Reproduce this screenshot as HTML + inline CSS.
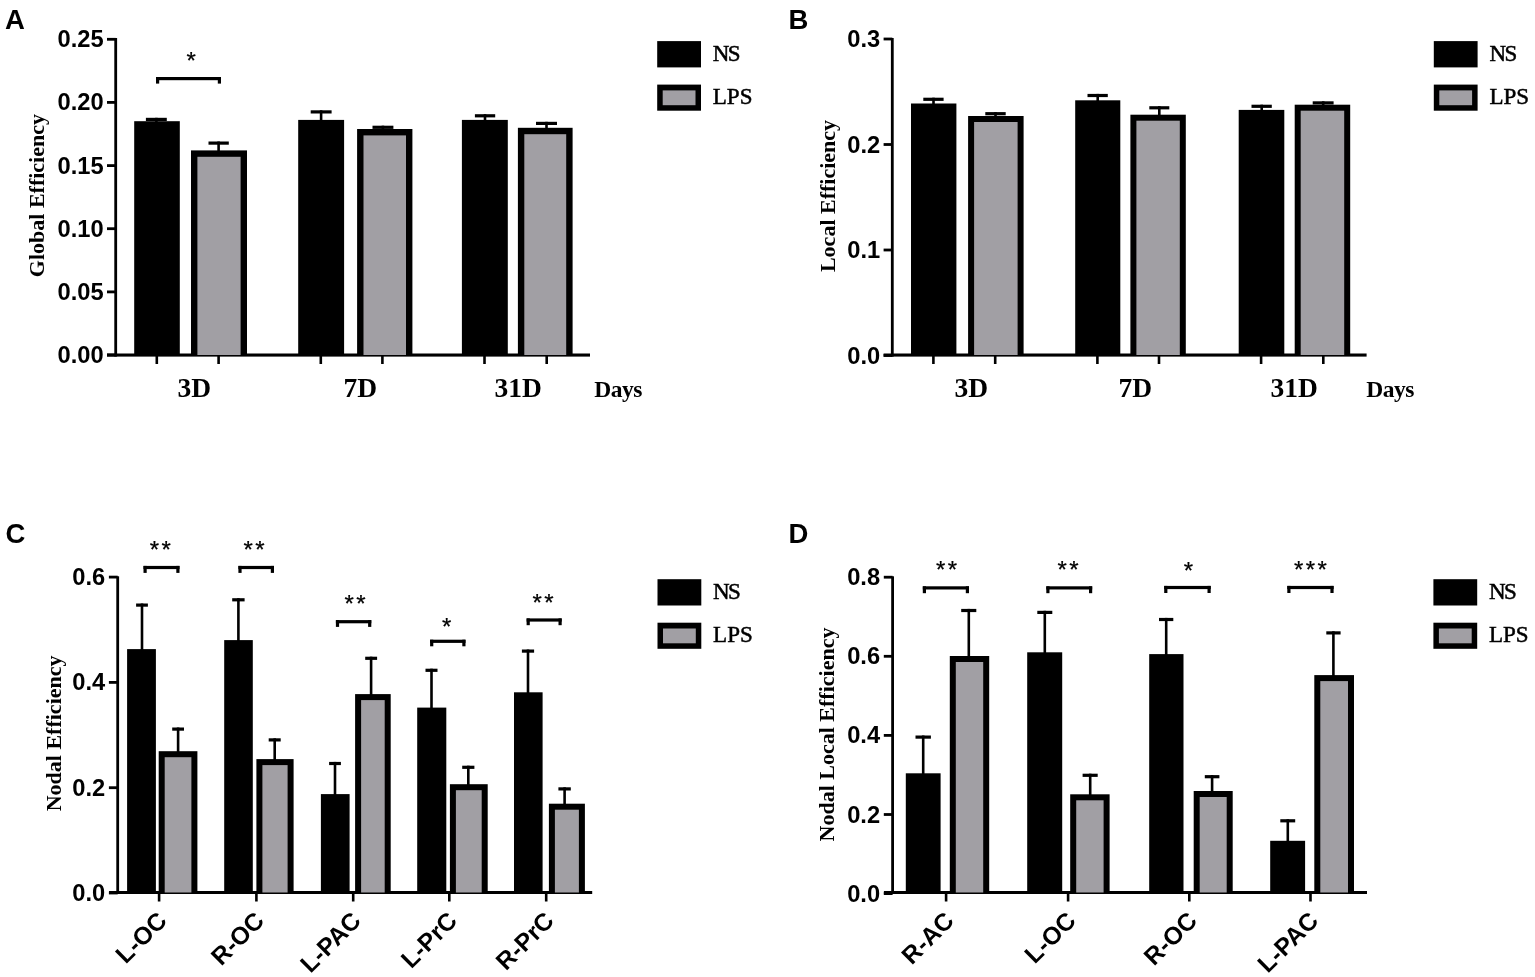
<!DOCTYPE html>
<html><head><meta charset="utf-8"><title>Figure</title>
<style>html,body{margin:0;padding:0;background:#fff;}svg{display:block;}</style></head>
<body><svg width="1535" height="977" viewBox="0 0 1535 977">
<rect width="1535" height="977" fill="#fff"/>
<text x="5.1" y="28.8" font-family="Liberation Sans, Arial, sans-serif" font-weight="bold" font-size="27.5" text-anchor="start" >A</text>
<rect x="114.3" y="38.0" width="2.8" height="318.6" fill="#000"/>
<rect x="107.0" y="353.6" width="8.7" height="2.8" fill="#000"/>
<text x="103.6" y="363.0" font-family="Liberation Sans, Arial, sans-serif" font-weight="bold" font-size="23.7" text-anchor="end" >0.00</text>
<rect x="107.0" y="290.5" width="8.7" height="2.8" fill="#000"/>
<text x="103.6" y="299.9" font-family="Liberation Sans, Arial, sans-serif" font-weight="bold" font-size="23.7" text-anchor="end" >0.05</text>
<rect x="107.0" y="227.3" width="8.7" height="2.8" fill="#000"/>
<text x="103.6" y="236.7" font-family="Liberation Sans, Arial, sans-serif" font-weight="bold" font-size="23.7" text-anchor="end" >0.10</text>
<rect x="107.0" y="164.2" width="8.7" height="2.8" fill="#000"/>
<text x="103.6" y="173.6" font-family="Liberation Sans, Arial, sans-serif" font-weight="bold" font-size="23.7" text-anchor="end" >0.15</text>
<rect x="107.0" y="101.0" width="8.7" height="2.8" fill="#000"/>
<text x="103.6" y="110.4" font-family="Liberation Sans, Arial, sans-serif" font-weight="bold" font-size="23.7" text-anchor="end" >0.20</text>
<rect x="107.0" y="37.9" width="8.7" height="2.8" fill="#000"/>
<text x="103.6" y="47.3" font-family="Liberation Sans, Arial, sans-serif" font-weight="bold" font-size="23.7" text-anchor="end" >0.25</text>
<rect x="107.0" y="353.5" width="483.0" height="3.1" fill="#000"/>
<rect x="134.2" y="121.2" width="45.6" height="233.8" fill="#000"/>
<rect x="155.1" y="117.8" width="2.6" height="4.4" fill="#000"/>
<rect x="145.9" y="117.8" width="20.9" height="3.2" fill="#000"/>
<rect x="191.0" y="150.4" width="56.0" height="204.6" fill="#000"/>
<rect x="197.4" y="156.8" width="43.2" height="198.2" fill="#a19fa4"/>
<rect x="217.3" y="141.5" width="2.6" height="9.9" fill="#000"/>
<rect x="208.5" y="141.5" width="20.3" height="3.2" fill="#000"/>
<rect x="298.2" y="119.9" width="45.9" height="235.1" fill="#000"/>
<rect x="319.8" y="110.3" width="2.6" height="10.6" fill="#000"/>
<rect x="310.7" y="110.3" width="20.9" height="3.2" fill="#000"/>
<rect x="357.1" y="129.0" width="55.3" height="226.0" fill="#000"/>
<rect x="363.5" y="135.4" width="42.5" height="219.6" fill="#a19fa4"/>
<rect x="381.6" y="125.7" width="2.6" height="4.3" fill="#000"/>
<rect x="372.5" y="125.7" width="20.9" height="3.2" fill="#000"/>
<rect x="461.9" y="119.9" width="45.9" height="235.1" fill="#000"/>
<rect x="483.7" y="114.2" width="2.6" height="6.7" fill="#000"/>
<rect x="474.9" y="114.2" width="20.3" height="3.2" fill="#000"/>
<rect x="517.9" y="127.8" width="54.7" height="227.2" fill="#000"/>
<rect x="524.3" y="134.2" width="41.9" height="220.8" fill="#a19fa4"/>
<rect x="545.2" y="121.8" width="2.6" height="7.0" fill="#000"/>
<rect x="536.0" y="121.8" width="21.0" height="3.2" fill="#000"/>
<rect x="155.5" y="355.0" width="2.6" height="9.0" fill="#000"/>
<rect x="217.3" y="355.0" width="2.6" height="9.0" fill="#000"/>
<rect x="319.5" y="355.0" width="2.6" height="9.0" fill="#000"/>
<rect x="381.1" y="355.0" width="2.6" height="9.0" fill="#000"/>
<rect x="483.2" y="355.0" width="2.6" height="9.0" fill="#000"/>
<rect x="545.4" y="355.0" width="2.6" height="9.0" fill="#000"/>
<text x="194.4" y="397.3" font-family="Liberation Serif, Times New Roman, serif" font-weight="bold" font-size="27.5" text-anchor="middle" >3D</text>
<text x="360.3" y="397.3" font-family="Liberation Serif, Times New Roman, serif" font-weight="bold" font-size="27.5" text-anchor="middle" >7D</text>
<text x="518.2" y="397.3" font-family="Liberation Serif, Times New Roman, serif" font-weight="bold" font-size="27.5" text-anchor="middle" >31D</text>
<text x="594.3" y="397.4" font-family="Liberation Serif, Times New Roman, serif" font-weight="bold" font-size="23.5" text-anchor="start" letter-spacing="-0.5">Days</text>
<rect x="657.2" y="41.1" width="43.8" height="26.3" fill="#000"/>
<rect x="657.2" y="84.6" width="43.8" height="26.1" fill="#000"/>
<rect x="662.7" y="90.4" width="32.8" height="14.8" fill="#a19fa4"/>
<text x="712.8" y="61.3" font-family="Liberation Serif, Times New Roman, serif" font-size="23" text-anchor="start" letter-spacing="-1.6" stroke="#000" stroke-width="0.5">NS</text>
<text x="712.8" y="103.9" font-family="Liberation Serif, Times New Roman, serif" font-size="23" text-anchor="start" stroke="#000" stroke-width="0.5">LPS</text>
<text transform="translate(44.2,195.6) rotate(-90)" font-family="Liberation Serif, Times New Roman, serif" font-weight="bold" font-size="22" text-anchor="middle">Global Efficiency</text>
<rect x="156.0" y="77.0" width="65.0" height="3.2" fill="#000"/>
<rect x="156.0" y="77.0" width="3.2" height="6.6" fill="#000"/>
<rect x="217.8" y="77.0" width="3.2" height="6.6" fill="#000"/>
<text x="186.4" y="69.4" font-family="Liberation Sans, Arial, sans-serif" font-size="24" text-anchor="start" letter-spacing="2.4" stroke="#000" stroke-width="0.25" stroke-linejoin="round">*</text>
<text x="788.5" y="28.8" font-family="Liberation Sans, Arial, sans-serif" font-weight="bold" font-size="27.5" text-anchor="start" >B</text>
<rect x="890.9" y="38.0" width="2.8" height="318.6" fill="#000"/>
<rect x="883.6" y="354.1" width="8.7" height="2.8" fill="#000"/>
<text x="880.2" y="363.5" font-family="Liberation Sans, Arial, sans-serif" font-weight="bold" font-size="23.7" text-anchor="end" >0.0</text>
<rect x="883.6" y="248.6" width="8.7" height="2.8" fill="#000"/>
<text x="880.2" y="258.0" font-family="Liberation Sans, Arial, sans-serif" font-weight="bold" font-size="23.7" text-anchor="end" >0.1</text>
<rect x="883.6" y="143.1" width="8.7" height="2.8" fill="#000"/>
<text x="880.2" y="152.5" font-family="Liberation Sans, Arial, sans-serif" font-weight="bold" font-size="23.7" text-anchor="end" >0.2</text>
<rect x="883.6" y="37.6" width="8.7" height="2.8" fill="#000"/>
<text x="880.2" y="47.0" font-family="Liberation Sans, Arial, sans-serif" font-weight="bold" font-size="23.7" text-anchor="end" >0.3</text>
<rect x="883.6" y="353.5" width="483.0" height="3.1" fill="#000"/>
<rect x="911.0" y="103.5" width="45.4" height="251.5" fill="#000"/>
<rect x="932.2" y="97.7" width="2.6" height="6.8" fill="#000"/>
<rect x="923.3" y="97.7" width="20.3" height="3.2" fill="#000"/>
<rect x="968.1" y="116.0" width="55.5" height="239.0" fill="#000"/>
<rect x="974.1" y="122.0" width="43.5" height="233.0" fill="#a19fa4"/>
<rect x="994.2" y="112.1" width="2.6" height="4.9" fill="#000"/>
<rect x="985.3" y="112.1" width="20.4" height="3.2" fill="#000"/>
<rect x="1075.2" y="100.3" width="45.1" height="254.7" fill="#000"/>
<rect x="1096.4" y="93.9" width="2.6" height="7.4" fill="#000"/>
<rect x="1087.5" y="93.9" width="20.3" height="3.2" fill="#000"/>
<rect x="1130.4" y="114.7" width="55.4" height="240.3" fill="#000"/>
<rect x="1136.4" y="120.7" width="43.4" height="234.3" fill="#a19fa4"/>
<rect x="1158.0" y="106.2" width="2.6" height="9.5" fill="#000"/>
<rect x="1149.3" y="106.2" width="20.0" height="3.2" fill="#000"/>
<rect x="1238.7" y="109.9" width="45.6" height="245.1" fill="#000"/>
<rect x="1260.4" y="104.7" width="2.6" height="6.2" fill="#000"/>
<rect x="1251.5" y="104.7" width="20.3" height="3.2" fill="#000"/>
<rect x="1294.7" y="104.7" width="55.5" height="250.3" fill="#000"/>
<rect x="1300.7" y="110.7" width="43.5" height="244.3" fill="#a19fa4"/>
<rect x="1321.9" y="101.3" width="2.6" height="4.4" fill="#000"/>
<rect x="1312.7" y="101.3" width="20.9" height="3.2" fill="#000"/>
<rect x="932.1" y="355.0" width="2.6" height="9.0" fill="#000"/>
<rect x="993.9" y="355.0" width="2.6" height="9.0" fill="#000"/>
<rect x="1096.1" y="355.0" width="2.6" height="9.0" fill="#000"/>
<rect x="1157.7" y="355.0" width="2.6" height="9.0" fill="#000"/>
<rect x="1259.8" y="355.0" width="2.6" height="9.0" fill="#000"/>
<rect x="1322.0" y="355.0" width="2.6" height="9.0" fill="#000"/>
<text x="971.4" y="397.3" font-family="Liberation Serif, Times New Roman, serif" font-weight="bold" font-size="27.5" text-anchor="middle" >3D</text>
<text x="1135.3" y="397.3" font-family="Liberation Serif, Times New Roman, serif" font-weight="bold" font-size="27.5" text-anchor="middle" >7D</text>
<text x="1294.3" y="397.3" font-family="Liberation Serif, Times New Roman, serif" font-weight="bold" font-size="27.5" text-anchor="middle" >31D</text>
<text x="1366.2" y="397.4" font-family="Liberation Serif, Times New Roman, serif" font-weight="bold" font-size="23.5" text-anchor="start" letter-spacing="-0.5">Days</text>
<rect x="1433.8" y="41.1" width="43.8" height="26.3" fill="#000"/>
<rect x="1433.8" y="84.6" width="43.8" height="26.1" fill="#000"/>
<rect x="1439.3" y="90.4" width="32.8" height="14.8" fill="#a19fa4"/>
<text x="1489.4" y="61.3" font-family="Liberation Serif, Times New Roman, serif" font-size="23" text-anchor="start" letter-spacing="-1.6" stroke="#000" stroke-width="0.5">NS</text>
<text x="1489.4" y="103.9" font-family="Liberation Serif, Times New Roman, serif" font-size="23" text-anchor="start" stroke="#000" stroke-width="0.5">LPS</text>
<text transform="translate(835.1,196.0) rotate(-90)" font-family="Liberation Serif, Times New Roman, serif" font-weight="bold" font-size="22" text-anchor="middle">Local Efficiency</text>
<text x="5.5" y="543.1" font-family="Liberation Sans, Arial, sans-serif" font-weight="bold" font-size="27.5" text-anchor="start" >C</text>
<rect x="116.3" y="576.3" width="2.8" height="317.7" fill="#000"/>
<rect x="108.9" y="891.6" width="8.8" height="2.8" fill="#000"/>
<text x="105.2" y="901.0" font-family="Liberation Sans, Arial, sans-serif" font-weight="bold" font-size="23.7" text-anchor="end" >0.0</text>
<rect x="108.9" y="786.3" width="8.8" height="2.8" fill="#000"/>
<text x="105.2" y="795.7" font-family="Liberation Sans, Arial, sans-serif" font-weight="bold" font-size="23.7" text-anchor="end" >0.2</text>
<rect x="108.9" y="681.0" width="8.8" height="2.8" fill="#000"/>
<text x="105.2" y="690.4" font-family="Liberation Sans, Arial, sans-serif" font-weight="bold" font-size="23.7" text-anchor="end" >0.4</text>
<rect x="108.9" y="575.7" width="8.8" height="2.8" fill="#000"/>
<text x="105.2" y="585.1" font-family="Liberation Sans, Arial, sans-serif" font-weight="bold" font-size="23.7" text-anchor="end" >0.6</text>
<rect x="109.0" y="891.0" width="483.2" height="3.0" fill="#000"/>
<rect x="127.1" y="649.1" width="28.8" height="243.4" fill="#000"/>
<rect x="140.7" y="603.5" width="2.6" height="46.6" fill="#000"/>
<rect x="136.1" y="603.5" width="11.8" height="3.2" fill="#000"/>
<rect x="158.7" y="751.2" width="38.7" height="141.3" fill="#000"/>
<rect x="164.7" y="757.2" width="26.7" height="135.3" fill="#a19fa4"/>
<rect x="176.8" y="727.5" width="2.6" height="24.7" fill="#000"/>
<rect x="172.2" y="727.5" width="11.8" height="3.2" fill="#000"/>
<rect x="224.2" y="640.1" width="28.6" height="252.4" fill="#000"/>
<rect x="237.1" y="598.2" width="2.6" height="42.9" fill="#000"/>
<rect x="232.2" y="598.2" width="12.4" height="3.2" fill="#000"/>
<rect x="256.4" y="759.1" width="37.2" height="133.4" fill="#000"/>
<rect x="262.4" y="765.1" width="25.2" height="127.4" fill="#a19fa4"/>
<rect x="273.4" y="738.3" width="2.6" height="21.8" fill="#000"/>
<rect x="268.7" y="738.3" width="12.0" height="3.2" fill="#000"/>
<rect x="320.9" y="794.1" width="28.7" height="98.4" fill="#000"/>
<rect x="333.7" y="761.9" width="2.6" height="33.2" fill="#000"/>
<rect x="329.1" y="761.9" width="11.8" height="3.2" fill="#000"/>
<rect x="355.1" y="694.1" width="35.6" height="198.4" fill="#000"/>
<rect x="361.1" y="700.1" width="23.6" height="192.4" fill="#a19fa4"/>
<rect x="369.8" y="656.7" width="2.6" height="38.4" fill="#000"/>
<rect x="365.2" y="656.7" width="11.9" height="3.2" fill="#000"/>
<rect x="417.2" y="707.6" width="29.1" height="184.9" fill="#000"/>
<rect x="430.2" y="668.7" width="2.6" height="39.9" fill="#000"/>
<rect x="425.5" y="668.7" width="12.0" height="3.2" fill="#000"/>
<rect x="449.9" y="784.2" width="37.8" height="108.3" fill="#000"/>
<rect x="455.9" y="790.2" width="25.8" height="102.3" fill="#a19fa4"/>
<rect x="467.0" y="765.7" width="2.6" height="19.5" fill="#000"/>
<rect x="462.2" y="765.7" width="12.2" height="3.2" fill="#000"/>
<rect x="514.0" y="692.3" width="28.6" height="200.2" fill="#000"/>
<rect x="526.7" y="649.5" width="2.6" height="43.8" fill="#000"/>
<rect x="521.9" y="649.5" width="12.2" height="3.2" fill="#000"/>
<rect x="548.9" y="803.7" width="36.0" height="88.8" fill="#000"/>
<rect x="554.9" y="809.7" width="24.0" height="82.8" fill="#a19fa4"/>
<rect x="563.3" y="787.3" width="2.6" height="17.4" fill="#000"/>
<rect x="558.4" y="787.3" width="12.4" height="3.2" fill="#000"/>
<rect x="157.8" y="892.5" width="2.6" height="9.0" fill="#000"/>
<rect x="255.1" y="892.5" width="2.6" height="9.0" fill="#000"/>
<rect x="351.9" y="892.5" width="2.6" height="9.0" fill="#000"/>
<rect x="448.0" y="892.5" width="2.6" height="9.0" fill="#000"/>
<rect x="544.9" y="892.5" width="2.6" height="9.0" fill="#000"/>
<text transform="translate(168.3,922.2) rotate(-45)" font-family="Liberation Sans, Arial, sans-serif" font-weight="bold" font-size="24.6" text-anchor="end">L-OC</text>
<text transform="translate(265.6,922.2) rotate(-45)" font-family="Liberation Sans, Arial, sans-serif" font-weight="bold" font-size="24.6" text-anchor="end">R-OC</text>
<text transform="translate(362.4,922.2) rotate(-45)" font-family="Liberation Sans, Arial, sans-serif" font-weight="bold" font-size="24.6" text-anchor="end">L-PAC</text>
<text transform="translate(458.5,922.2) rotate(-45)" font-family="Liberation Sans, Arial, sans-serif" font-weight="bold" font-size="24.6" text-anchor="end">L-PrC</text>
<text transform="translate(555.4,922.2) rotate(-45)" font-family="Liberation Sans, Arial, sans-serif" font-weight="bold" font-size="24.6" text-anchor="end">R-PrC</text>
<rect x="657.5" y="579.2" width="43.8" height="26.3" fill="#000"/>
<rect x="657.5" y="622.7" width="43.8" height="26.1" fill="#000"/>
<rect x="663.0" y="628.5" width="32.8" height="14.8" fill="#a19fa4"/>
<text x="713.1" y="599.4" font-family="Liberation Serif, Times New Roman, serif" font-size="23" text-anchor="start" letter-spacing="-1.6" stroke="#000" stroke-width="0.5">NS</text>
<text x="713.1" y="642.0" font-family="Liberation Serif, Times New Roman, serif" font-size="23" text-anchor="start" stroke="#000" stroke-width="0.5">LPS</text>
<text transform="translate(60.6,733.4) rotate(-90)" font-family="Liberation Serif, Times New Roman, serif" font-weight="bold" font-size="22" text-anchor="middle">Nodal Efficiency</text>
<rect x="143.5" y="565.9" width="36.0" height="3.2" fill="#000"/>
<rect x="143.5" y="565.9" width="3.2" height="7.0" fill="#000"/>
<rect x="176.3" y="565.9" width="3.2" height="7.0" fill="#000"/>
<rect x="238.4" y="565.9" width="35.6" height="3.2" fill="#000"/>
<rect x="238.4" y="565.9" width="3.2" height="7.0" fill="#000"/>
<rect x="270.8" y="565.9" width="3.2" height="7.0" fill="#000"/>
<rect x="335.9" y="620.1" width="35.4" height="3.2" fill="#000"/>
<rect x="335.9" y="620.1" width="3.2" height="6.8" fill="#000"/>
<rect x="368.1" y="620.1" width="3.2" height="6.8" fill="#000"/>
<rect x="430.1" y="639.7" width="35.4" height="3.2" fill="#000"/>
<rect x="430.1" y="639.7" width="3.2" height="6.6" fill="#000"/>
<rect x="462.3" y="639.7" width="3.2" height="6.6" fill="#000"/>
<rect x="526.6" y="618.4" width="35.1" height="3.2" fill="#000"/>
<rect x="526.6" y="618.4" width="3.2" height="6.8" fill="#000"/>
<rect x="558.5" y="618.4" width="3.2" height="6.8" fill="#000"/>
<text x="149.7" y="558.3" font-family="Liberation Sans, Arial, sans-serif" font-size="24" text-anchor="start" letter-spacing="2.4" stroke="#000" stroke-width="0.25" stroke-linejoin="round">**</text>
<text x="243.6" y="558.3" font-family="Liberation Sans, Arial, sans-serif" font-size="24" text-anchor="start" letter-spacing="2.4" stroke="#000" stroke-width="0.25" stroke-linejoin="round">**</text>
<text x="344.6" y="611.7" font-family="Liberation Sans, Arial, sans-serif" font-size="24" text-anchor="start" letter-spacing="2.4" stroke="#000" stroke-width="0.25" stroke-linejoin="round">**</text>
<text x="441.9" y="634.8" font-family="Liberation Sans, Arial, sans-serif" font-size="24" text-anchor="start" letter-spacing="2.4" stroke="#000" stroke-width="0.25" stroke-linejoin="round">*</text>
<text x="532.5" y="611.2" font-family="Liberation Sans, Arial, sans-serif" font-size="24" text-anchor="start" letter-spacing="2.4" stroke="#000" stroke-width="0.25" stroke-linejoin="round">**</text>
<text x="788.6" y="543.1" font-family="Liberation Sans, Arial, sans-serif" font-weight="bold" font-size="27.5" text-anchor="start" >D</text>
<rect x="891.2" y="576.3" width="2.8" height="317.7" fill="#000"/>
<rect x="883.8" y="892.2" width="8.8" height="2.8" fill="#000"/>
<text x="880.1" y="901.6" font-family="Liberation Sans, Arial, sans-serif" font-weight="bold" font-size="23.7" text-anchor="end" >0.0</text>
<rect x="883.8" y="813.1" width="8.8" height="2.8" fill="#000"/>
<text x="880.1" y="822.5" font-family="Liberation Sans, Arial, sans-serif" font-weight="bold" font-size="23.7" text-anchor="end" >0.2</text>
<rect x="883.8" y="734.0" width="8.8" height="2.8" fill="#000"/>
<text x="880.1" y="743.4" font-family="Liberation Sans, Arial, sans-serif" font-weight="bold" font-size="23.7" text-anchor="end" >0.4</text>
<rect x="883.8" y="654.9" width="8.8" height="2.8" fill="#000"/>
<text x="880.1" y="664.3" font-family="Liberation Sans, Arial, sans-serif" font-weight="bold" font-size="23.7" text-anchor="end" >0.6</text>
<rect x="883.8" y="575.8" width="8.8" height="2.8" fill="#000"/>
<text x="880.1" y="585.2" font-family="Liberation Sans, Arial, sans-serif" font-weight="bold" font-size="23.7" text-anchor="end" >0.8</text>
<rect x="883.9" y="891.0" width="483.1" height="3.0" fill="#000"/>
<rect x="905.8" y="773.3" width="34.8" height="119.2" fill="#000"/>
<rect x="921.9" y="735.5" width="2.6" height="38.8" fill="#000"/>
<rect x="915.5" y="735.5" width="15.4" height="3.2" fill="#000"/>
<rect x="949.8" y="656.0" width="39.4" height="236.5" fill="#000"/>
<rect x="955.8" y="662.0" width="27.4" height="230.5" fill="#a19fa4"/>
<rect x="967.5" y="608.9" width="2.6" height="48.1" fill="#000"/>
<rect x="961.2" y="608.9" width="15.1" height="3.2" fill="#000"/>
<rect x="1027.2" y="652.3" width="35.0" height="240.2" fill="#000"/>
<rect x="1043.5" y="610.8" width="2.6" height="42.5" fill="#000"/>
<rect x="1037.3" y="610.8" width="15.0" height="3.2" fill="#000"/>
<rect x="1070.2" y="794.3" width="39.4" height="98.2" fill="#000"/>
<rect x="1076.2" y="800.3" width="27.4" height="92.2" fill="#a19fa4"/>
<rect x="1088.9" y="773.7" width="2.6" height="21.6" fill="#000"/>
<rect x="1082.6" y="773.7" width="15.1" height="3.2" fill="#000"/>
<rect x="1149.2" y="654.1" width="34.3" height="238.4" fill="#000"/>
<rect x="1164.9" y="617.9" width="2.6" height="37.2" fill="#000"/>
<rect x="1159.0" y="617.9" width="14.3" height="3.2" fill="#000"/>
<rect x="1193.7" y="791.0" width="39.0" height="101.5" fill="#000"/>
<rect x="1199.7" y="797.0" width="27.0" height="95.5" fill="#a19fa4"/>
<rect x="1210.8" y="775.1" width="2.6" height="16.9" fill="#000"/>
<rect x="1204.8" y="775.1" width="14.6" height="3.2" fill="#000"/>
<rect x="1270.2" y="840.8" width="34.9" height="51.7" fill="#000"/>
<rect x="1286.5" y="819.2" width="2.6" height="22.6" fill="#000"/>
<rect x="1280.3" y="819.2" width="14.9" height="3.2" fill="#000"/>
<rect x="1314.3" y="675.1" width="39.7" height="217.4" fill="#000"/>
<rect x="1320.3" y="681.1" width="27.7" height="211.4" fill="#a19fa4"/>
<rect x="1332.1" y="631.3" width="2.6" height="44.8" fill="#000"/>
<rect x="1326.3" y="631.3" width="14.3" height="3.2" fill="#000"/>
<rect x="944.8" y="892.5" width="2.6" height="9.0" fill="#000"/>
<rect x="1066.8" y="892.5" width="2.6" height="9.0" fill="#000"/>
<rect x="1188.0" y="892.5" width="2.6" height="9.0" fill="#000"/>
<rect x="1309.2" y="892.5" width="2.6" height="9.0" fill="#000"/>
<text transform="translate(955.3,922.2) rotate(-45)" font-family="Liberation Sans, Arial, sans-serif" font-weight="bold" font-size="24.6" text-anchor="end">R-AC</text>
<text transform="translate(1077.3,922.2) rotate(-45)" font-family="Liberation Sans, Arial, sans-serif" font-weight="bold" font-size="24.6" text-anchor="end">L-OC</text>
<text transform="translate(1198.5,922.2) rotate(-45)" font-family="Liberation Sans, Arial, sans-serif" font-weight="bold" font-size="24.6" text-anchor="end">R-OC</text>
<text transform="translate(1319.7,922.2) rotate(-45)" font-family="Liberation Sans, Arial, sans-serif" font-weight="bold" font-size="24.6" text-anchor="end">L-PAC</text>
<rect x="1433.4" y="579.2" width="43.8" height="26.3" fill="#000"/>
<rect x="1433.4" y="622.7" width="43.8" height="26.1" fill="#000"/>
<rect x="1438.9" y="628.5" width="32.8" height="14.8" fill="#a19fa4"/>
<text x="1489.0" y="599.4" font-family="Liberation Serif, Times New Roman, serif" font-size="23" text-anchor="start" letter-spacing="-1.6" stroke="#000" stroke-width="0.5">NS</text>
<text x="1489.0" y="642.0" font-family="Liberation Serif, Times New Roman, serif" font-size="23" text-anchor="start" stroke="#000" stroke-width="0.5">LPS</text>
<text transform="translate(834.3,734.5) rotate(-90)" font-family="Liberation Serif, Times New Roman, serif" font-weight="bold" font-size="22" text-anchor="middle">Nodal Local Efficiency</text>
<rect x="922.8" y="586.3" width="46.2" height="3.2" fill="#000"/>
<rect x="922.8" y="586.3" width="3.2" height="6.9" fill="#000"/>
<rect x="965.8" y="586.3" width="3.2" height="6.9" fill="#000"/>
<rect x="1046.3" y="586.3" width="45.9" height="3.2" fill="#000"/>
<rect x="1046.3" y="586.3" width="3.2" height="6.9" fill="#000"/>
<rect x="1089.0" y="586.3" width="3.2" height="6.9" fill="#000"/>
<rect x="1164.2" y="585.9" width="46.5" height="3.2" fill="#000"/>
<rect x="1164.2" y="585.9" width="3.2" height="7.1" fill="#000"/>
<rect x="1207.5" y="585.9" width="3.2" height="7.1" fill="#000"/>
<rect x="1287.3" y="585.9" width="46.3" height="3.2" fill="#000"/>
<rect x="1287.3" y="585.9" width="3.2" height="7.1" fill="#000"/>
<rect x="1330.4" y="585.9" width="3.2" height="7.1" fill="#000"/>
<text x="935.9" y="578.3" font-family="Liberation Sans, Arial, sans-serif" font-size="24" text-anchor="start" letter-spacing="2.4" stroke="#000" stroke-width="0.25" stroke-linejoin="round">**</text>
<text x="1057.4" y="578.3" font-family="Liberation Sans, Arial, sans-serif" font-size="24" text-anchor="start" letter-spacing="2.4" stroke="#000" stroke-width="0.25" stroke-linejoin="round">**</text>
<text x="1183.7" y="579.1" font-family="Liberation Sans, Arial, sans-serif" font-size="24" text-anchor="start" letter-spacing="2.4" stroke="#000" stroke-width="0.25" stroke-linejoin="round">*</text>
<text x="1294.0" y="577.8" font-family="Liberation Sans, Arial, sans-serif" font-size="24" text-anchor="start" letter-spacing="2.4" stroke="#000" stroke-width="0.25" stroke-linejoin="round">***</text>
</svg></body></html>
